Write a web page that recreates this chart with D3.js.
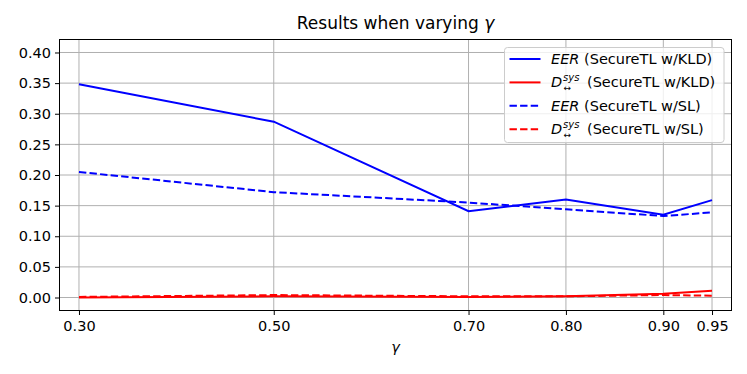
<!DOCTYPE html>
<html><head><meta charset="utf-8">
<script src="https://cdn.jsdelivr.net/npm/d3@7"></script>
<style>body{margin:0;background:#fff}svg{font-family:"DejaVu Sans",sans-serif}</style>
</head><body><svg id="c" width="747" height="374"></svg>
<script>
const gammas = [0.30, 0.50, 0.70, 0.80, 0.90, 0.95];
const xTickLabels = ["0.30", "0.50", "0.70", "0.80", "0.90", "0.95"];
const yTicks = [0.00, 0.05, 0.10, 0.15, 0.20, 0.25, 0.30, 0.35, 0.40];
const eerKLD = [0.348, 0.287, 0.141, 0.160, 0.135, 0.159];
const dsysKLD = [0.000, 0.002, 0.001, 0.002, 0.006, 0.011];
const eerSL = [0.205, 0.172, 0.155, 0.144, 0.133, 0.139];
const dsysSL = [0.001, 0.004, 0.002, 0.002, 0.004, 0.003];
const seriesNames = ["KLD", "KLD", "SL", "SL"];

const series = [
  {vals: eerKLD, color: "#0000ff", dash: null, kind: "EER", name: seriesNames[0]},
  {vals: dsysKLD, color: "#ff0000", dash: null, kind: "D", name: seriesNames[1]},
  {vals: eerSL, color: "#0000ff", dash: "7.4,3.2", kind: "EER", name: seriesNames[2]},
  {vals: dsysSL, color: "#ff0000", dash: "7.4,3.2", kind: "D", name: seriesNames[3]}
];

const L = 59.5, R = 731.5, T = 39.5, B = 310.5;
const svg = d3.select("#c");
const x = d3.scaleLinear().domain([0.28, 0.97]).range([L, R]);
const y = d3.scaleLinear().domain([-0.0212, 0.4212]).range([B, T]);

// grid
const g = svg.append("g");
g.selectAll(".gx").data(gammas).enter().append("line")
  .attr("x1", d => x(d)).attr("x2", d => x(d)).attr("y1", T).attr("y2", B)
  .attr("stroke", "#b0b0b0").attr("stroke-width", 1);
g.selectAll(".gy").data(yTicks).enter().append("line")
  .attr("y1", d => y(d)).attr("y2", d => y(d)).attr("x1", L).attr("x2", R)
  .attr("stroke", "#b0b0b0").attr("stroke-width", 1);

// axes
const xAxis = d3.axisBottom(x).tickValues(gammas).tickFormat((d, i) => xTickLabels[i]).tickSizeOuter(0).tickSize(4.5).tickPadding(4);
const yAxis = d3.axisLeft(y).tickValues(yTicks).tickFormat(d3.format(".2f")).tickSizeOuter(0).tickSize(4.5).tickPadding(4);
const gx = svg.append("g").attr("transform", `translate(0,${B})`).call(xAxis);
const gy = svg.append("g").attr("transform", `translate(${L},0)`).call(yAxis);
[gx, gy].forEach(a => {
  a.select(".domain").remove();
  a.selectAll("text").attr("font-family", "DejaVu Sans").attr("font-size", 14.5).attr("fill", "#000");
  a.selectAll("line").attr("stroke", "#000").attr("stroke-width", 1);
});
gx.selectAll("text").attr("dy", "0.71em").attr("y", 10);

// lines
const clip = svg.append("clipPath").attr("id", "clp").append("rect")
  .attr("x", L).attr("y", T).attr("width", R - L).attr("height", B - T);
const line = d3.line().x((d, i) => x(gammas[i])).y(d => y(d));
series.forEach(s => {
  svg.append("path").attr("d", line(s.vals)).attr("fill", "none")
    .attr("stroke", s.color).attr("stroke-width", 2)
    .attr("stroke-dasharray", s.dash).attr("clip-path", "url(#clp)");
});

// frame
svg.append("rect").attr("x", L).attr("y", T).attr("width", R - L).attr("height", B - T)
  .attr("fill", "none").attr("stroke", "#000").attr("stroke-width", 1);

// title
const title = svg.append("text").attr("x", (L + R) / 2).attr("y", 29).attr("text-anchor", "middle")
  .attr("font-size", 17).attr("fill", "#000");
title.append("tspan").text("Results when varying ");
title.append("tspan").attr("font-style", "italic").text("γ");

// x label
svg.append("text").attr("x", (L + R) / 2).attr("y", 352).attr("text-anchor", "middle")
  .attr("font-size", 14.5).attr("font-style", "italic").text("γ");

// legend
const lg = svg.append("g");
lg.append("rect").attr("x", 504.5).attr("y", 47.5).attr("width", 219.5).attr("height", 95)
  .attr("rx", 3).attr("fill", "#fff").attr("fill-opacity", 0.8).attr("stroke", "#cccccc").attr("stroke-width", 1);
series.forEach((s, i) => {
  const yy = 59 + i * 23.4;
  lg.append("line").attr("x1", 509.5).attr("x2", 540.5).attr("y1", yy).attr("y2", yy)
    .attr("stroke", s.color).attr("stroke-width", 2).attr("stroke-dasharray", s.dash);
  if (s.kind === "EER") {
    const t = lg.append("text").attr("x", 551).attr("y", yy + 5).attr("font-size", 14.5).attr("fill", "#000");
    t.append("tspan").attr("font-style", "italic").text("EER");
    t.append("tspan").text(" (SecureTL w/" + s.name + ")");
  } else {
    lg.append("text").attr("x", 551).attr("y", yy + 5).attr("font-size", 14.5).attr("font-style", "italic").text("D");
    lg.append("text").attr("x", 563).attr("y", yy - 1).attr("font-size", 10).attr("font-style", "italic").text("sys");
    lg.append("text").attr("x", 563.5).attr("y", yy + 9).attr("font-size", 9).text("↔");
    lg.append("text").attr("x", 587).attr("y", yy + 5).attr("font-size", 14.5).text("(SecureTL w/" + s.name + ")");
  }
});
</script></body></html>
